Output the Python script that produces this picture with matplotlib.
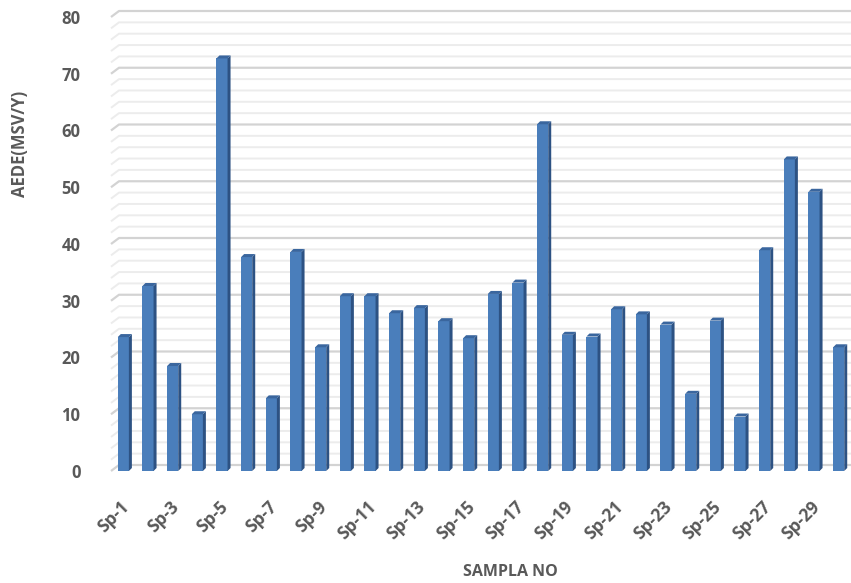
import numpy as np
import matplotlib
matplotlib.use('Agg')
import matplotlib.pyplot as plt
import matplotlib.transforms as mtransforms
from matplotlib.patches import Polygon

samples = ['Sp-%d' % i for i in range(1, 31)]
aede = [23.6, 32.6, 18.5, 10.0, 72.7, 37.7, 12.8, 38.6, 21.8, 30.8,
        30.8, 27.8, 28.7, 26.4, 23.4, 31.2, 33.2, 61.1, 24.0, 23.7,
        28.5, 27.6, 25.8, 13.6, 26.5, 9.6, 38.9, 54.9, 49.2, 21.8]
y_ticks = [0, 10, 20, 30, 40, 50, 60, 70, 80]

plt.rcParams['font.family'] = ['Open Sans', 'DejaVu Sans']
txt_color = '#595959'

fig = plt.figure(figsize=(8.51, 5.83), dpi=100)
W, H = 851, 583
ax = fig.add_axes([111 / W, 112 / H, 740 / W, 454 / H])
n = len(aede)
x = np.arange(n)
ax.set_xlim(-0.5, n - 0.5)
ax.set_ylim(0, 80)

# data units per pixel
px = (n) / 740
py = 80 / 454

# back wall grid (minor every 2, major every 10)
for v in range(0, 81, 2):
    major = v % 10 == 0
    c = '#d3d3d3' if major else '#ececec'
    lw = 1.6 if major else 1.4
    x0 = -0.5
    xb = x0 + 8 * px
    yb = v + 6 * py
    ax.plot([x0, xb, n - 0.5 + 1], [v, yb, yb], color=c, lw=lw,
            clip_on=False, zorder=1, solid_capstyle='butt')

# bars with a little depth
w = 0.45
dx, dy = 3 * px, 3 * py
ax.bar(x, aede, width=w, color='#4a7ebb', zorder=3)
for xi, v in zip(x, aede):
    r = xi + w / 2
    l = xi - w / 2
    side = Polygon([[r, 0], [r, v], [r + dx, v + dy], [r + dx, dy]],
                   closed=True, facecolor='#2d5283', edgecolor='none', zorder=3)
    top = Polygon([[l, v], [r, v], [r + dx, v + dy], [l + dx, v + dy]],
                  closed=True, facecolor='#3a669e', edgecolor='none', zorder=3)
    ax.add_patch(side)
    ax.add_patch(top)

for s in ax.spines.values():
    s.set_visible(False)

ax.set_yticks(y_ticks)
ax.set_yticklabels([str(t) for t in y_ticks], fontsize=12, fontweight='bold', color=txt_color)
ax.tick_params(axis='y', length=0, pad=22)

ax.set_xticks(x[::2])
ax.set_xticklabels(samples[::2], rotation=45, ha='right', rotation_mode='anchor',
                   fontsize=12.5, fontweight='bold', color=txt_color)
ax.tick_params(axis='x', length=0, pad=19)
shift = mtransforms.ScaledTranslation(-3 / 100, 0, fig.dpi_scale_trans)
for lab in ax.get_xticklabels():
    lab.set_transform(lab.get_transform() + shift)

fig.text(20 / W, 1 - 144 / H, 'AEDE(MSV/Y)', rotation=90, ha='center', va='center',
         fontsize=12, fontweight='bold', color=txt_color)
fig.text(510 / W, 1 - 572 / H, 'SAMPLA NO', ha='center', va='center',
         fontsize=11.5, fontweight='bold', color=txt_color)

fig.savefig('out.png', dpi=100)
